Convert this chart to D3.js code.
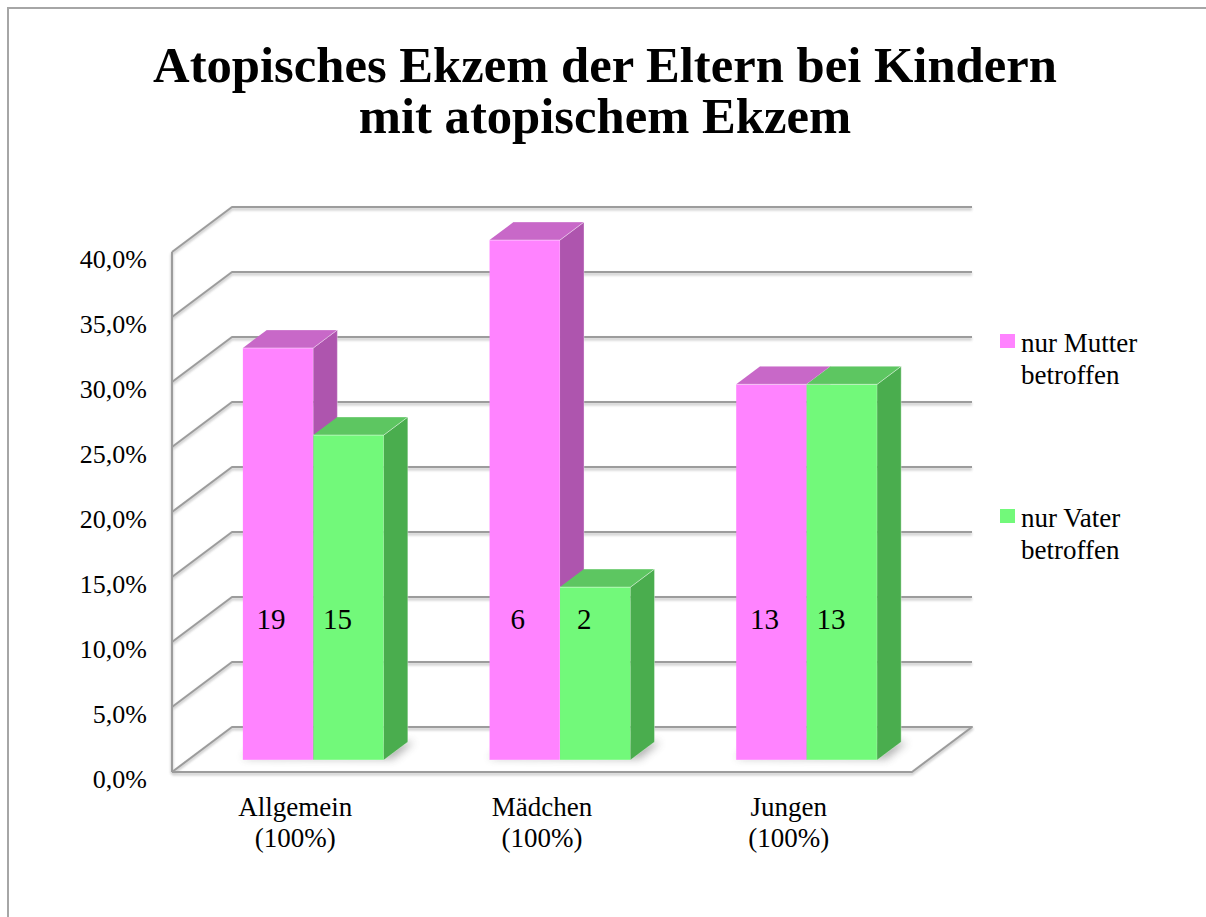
<!DOCTYPE html>
<html>
<head>
<meta charset="utf-8">
<script src="https://cdn.jsdelivr.net/npm/d3@7"></script>
<style>
	body { margin: 0; background: white; }
	text { font-family: "Liberation Serif", "DejaVu Serif", serif; fill: black; }
</style>
</head>
<body>
<script>
"use strict";

//chart data, percentages, counts are the bar labels
const categories = ["Allgemein", "Mädchen", "Jungen"];
const category_sub = ["(100%)", "(100%)", "(100%)"];
const series = ["nur Mutter betroffen", "nur Vater betroffen"];
const mutter_values = [31.7, 40.0, 28.9];
const vater_values = [25.0, 13.3, 28.9];
const mutter_counts = [19, 6, 13];
const vater_counts = [15, 2, 13];
const y_ticks = [0, 5, 10, 15, 20, 25, 30, 35, 40];
const title_lines = ["Atopisches Ekzem der Eltern bei Kindern", "mit atopischem Ekzem"];

(function()
{
	let width = 1206, height = 917;

	//depth of the 3d box and where the bars sit inside it
	let depth_x = 60, depth_y = -45;
	let bar_front = 0.267, bar_back = 0.667;
	let bar_shift = 2;
	let label_level = 10.8;
	let label_nudge = [-7, -11];

	let colors = [
		{front: "#ff83ff", top: "#c868c8", side: "#ae55ae"},
		{front: "#72f97a", top: "#5dc661", side: "#4aad4e"}
	];

	let x = d3.scaleBand()
		.domain(categories)
		.range([172, 912]);
	let xs = d3.scaleBand()
		.domain(series)
		.range([0, x.bandwidth()])
		.paddingOuter(0.75);
	let y = d3.scaleLinear()
		.domain([0, 40])
		.range([772, 252]);

	//project a front plane point back into the box
	function proj(px, v, f)
	{
		return [px + depth_x * f, y(v) + depth_y * f];
	}
	let path_func = d3.line();

	let svg = d3.select("body").append("svg")
		.attr("width", width)
		.attr("height", height);

	let defs = svg.append("defs");
	defs.append("filter")
		.attr("id", "shadow")
		.attr("x", "-50%").attr("y", "-50%")
		.attr("width", "200%").attr("height", "200%")
		.append("feGaussianBlur")
		.attr("stdDeviation", 4);
	defs.append("filter")
		.attr("id", "lineshadow")
		.append("feGaussianBlur")
		.attr("stdDeviation", 1);

	//outer frame, right and bottom edges lie outside the picture
	svg.append("rect")
		.attr("x", 8).attr("y", 8)
		.attr("width", width + 20).attr("height", height + 20)
		.attr("fill", "white")
		.attr("stroke", "#a6a6a6")
		.attr("stroke-width", 2);

	//title
	let title = svg.append("g")
		.attr("font-weight", "bold")
		.attr("text-anchor", "middle");
	title_lines.forEach(function(t, i)
	{
		title.append("text")
			.attr("x", 605)
			.attr("y", 82 + i * 51)
			.attr("font-size", 50)
			.text(t);
	});
	//scale title to the width it has in the picture
	let tnode = title.select("text").node();
	let tw = tnode.getComputedTextLength();
	let tsize = Math.min(56, 50 * 904 / tw);
	title.selectAll("text").attr("font-size", tsize);

	//walls and gridlines
	let grid = svg.append("g")
		.attr("fill", "none")
		.attr("stroke-linejoin", "round");
	let grid_lines = y_ticks.filter(function(t) { return t > 0; });
	for (let pass = 0; pass < 2; ++pass)
	{
		let g = grid.append("g")
			.attr("stroke", pass ? "#9c9c9c" : "#d0d0d0")
			.attr("stroke-width", pass ? 2 : 3)
			.attr("transform", pass ? null : "translate(0,2)")
			.attr("filter", pass ? null : "url(#lineshadow)");
		for (let t of grid_lines)
		{
			g.append("path")
				.attr("d", path_func([proj(172, t, 0), proj(172, t, 1), proj(912, t, 1)]));
		}
		//left wall edge
		g.append("path")
			.attr("d", path_func([proj(172, 40, 0), proj(172, 0, 0)]));
		//floor
		g.append("path")
			.attr("d", path_func([proj(172, 0, 0), proj(172, 0, 1), proj(912, 0, 1), proj(912, 0, 0), proj(172, 0, 0)]));
	}

	//y axis labels
	let axis = svg.append("g")
		.attr("transform", "translate(172,0)")
		.call(d3.axisLeft(y)
			.tickValues(y_ticks)
			.tickSize(0)
			.tickPadding(25)
			.tickFormat(function(d) { return d3.format(".1f")(d).replace(".", ",") + "%"; }));
	axis.select(".domain").remove();
	axis.selectAll("text")
		.attr("font-size", 26)
		.attr("font-family", "Liberation Serif")
		.attr("dy", "0.58em");

	//category labels
	let cat = svg.append("g")
		.attr("text-anchor", "middle")
		.attr("font-size", 27);
	categories.forEach(function(c, i)
	{
		let cx = x(c) + x.bandwidth() / 2;
		cat.append("text").attr("x", cx).attr("y", 816).text(c);
		cat.append("text").attr("x", cx).attr("y", 847).text(category_sub[i]);
	});

	//bars
	let bars = svg.append("g")
		.attr("transform", "translate(" + bar_shift + ",0)");
	let values = [mutter_values, vater_values];
	let counts = [mutter_counts, vater_counts];

	//soft shadows on the floor first
	categories.forEach(function(c, i)
	{
		let x0 = x(c) + xs(series[0]);
		let x1 = x(c) + xs(series[1]) + xs.bandwidth();
		bars.append("path")
			.attr("fill", "#555")
			.attr("opacity", 0.45)
			.attr("filter", "url(#shadow)")
			.attr("d", path_func([proj(x0 - 4, 0, bar_front + 0.05), proj(x1 + 8, 0, bar_front + 0.02),
				proj(x1 + 6, 0, bar_back), proj(x0, 0, bar_back)]));
	});

	categories.forEach(function(c, i)
	{
		series.forEach(function(s, k)
		{
			let v = values[k][i];
			let x0 = x(c) + xs(s);
			let x1 = x0 + xs.bandwidth();
			let col = colors[k];
			let bar = bars.append("g")
				.attr("stroke", "white")
				.attr("stroke-opacity", 0.35)
				.attr("stroke-width", 1)
				.attr("stroke-linejoin", "round");
			//front face
			bar.append("path")
				.attr("fill", col.front)
				.attr("d", path_func([proj(x0, 0, bar_front), proj(x1, 0, bar_front),
					proj(x1, v, bar_front), proj(x0, v, bar_front)]));
			//side face
			bar.append("path")
				.attr("fill", col.side)
				.attr("d", path_func([proj(x1, 0, bar_front), proj(x1, 0, bar_back),
					proj(x1, v, bar_back), proj(x1, v, bar_front)]));
			//top face
			bar.append("path")
				.attr("fill", col.top)
				.attr("d", path_func([proj(x0, v, bar_front), proj(x1, v, bar_front),
					proj(x1, v, bar_back), proj(x0, v, bar_back)]));
		});
	});

	//value labels
	let labels = svg.append("g")
		.attr("text-anchor", "middle")
		.attr("font-size", 29);
	categories.forEach(function(c, i)
	{
		series.forEach(function(s, k)
		{
			let p = proj(x(c) + xs(s) + xs.bandwidth() / 2 + bar_shift + label_nudge[k], label_level, bar_front);
			labels.append("text")
				.attr("x", p[0])
				.attr("y", p[1])
				.attr("dy", "0.34em")
				.text(counts[k][i]);
		});
	});

	//legend
	let legend = svg.append("g")
		.attr("font-size", 27);
	let legend_y = [334, 509];
	series.forEach(function(s, k)
	{
		let words = s.split(" ");
		legend.append("rect")
			.attr("x", 1000)
			.attr("y", legend_y[k])
			.attr("width", 15)
			.attr("height", 14)
			.attr("fill", colors[k].front);
		legend.append("text")
			.attr("x", 1021)
			.attr("y", legend_y[k] + 18)
			.text(words[0] + " " + words[1]);
		legend.append("text")
			.attr("x", 1021)
			.attr("y", legend_y[k] + 50)
			.text(words[2]);
	});
})();
</script>
</body>
</html>
